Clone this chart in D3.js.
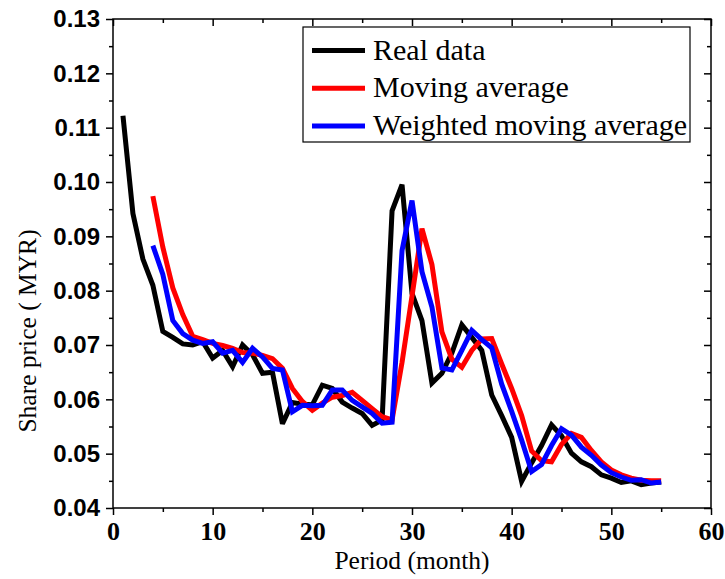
<!DOCTYPE html>
<html>
<head>
<meta charset="utf-8">
<script src="https://cdn.jsdelivr.net/npm/d3@7/dist/d3.min.js"></script>
<style>
  html, body { margin: 0; padding: 0; background: #fff; }
  svg { display: block; }
</style>
</head>
<body>
<script>
// ---- data ----
const realPeriods = d3.range(1, 56);
const realData = [
  0.1122, 0.0942, 0.0858, 0.0810, 0.0725, 0.0714, 0.0702, 0.0700, 0.0706, 0.0676,
  0.0690, 0.0660, 0.0700, 0.0682, 0.0648, 0.0650, 0.0555, 0.0594, 0.0591, 0.0590,
  0.0626, 0.0620, 0.0595, 0.0584, 0.0574, 0.0552, 0.0562, 0.0947, 0.0995, 0.0795,
  0.0745, 0.0630, 0.0648, 0.0685, 0.0737, 0.0714, 0.0690, 0.0608, 0.0570, 0.0530,
  0.0449, 0.0483, 0.0515, 0.0553, 0.0533, 0.0501, 0.0485, 0.0476, 0.0461, 0.0455,
  0.0447, 0.0450, 0.0443, 0.0446, 0.0448
];
const avgPeriods = d3.range(4, 56);
const movingAverage = [
  0.0974, 0.0880, 0.0805, 0.0756, 0.0716, 0.0710, 0.0703, 0.0699, 0.0694, 0.0686,
  0.0685, 0.0681, 0.0675, 0.0657, 0.0620, 0.0596, 0.0580, 0.0593, 0.0604, 0.0607,
  0.0613, 0.0598, 0.0583, 0.0568, 0.0562, 0.0668, 0.0790, 0.0914, 0.0848, 0.0724,
  0.0674, 0.0659, 0.0690, 0.0711, 0.0712, 0.0665, 0.0620, 0.0570, 0.0505, 0.0487,
  0.0485, 0.0517, 0.0537, 0.0530, 0.0506, 0.0485, 0.0470, 0.0461, 0.0455, 0.0451,
  0.0450, 0.0450
];
const weightedMovingAverage = [
  0.0883, 0.0830, 0.0745, 0.0721, 0.0709, 0.0703, 0.0706, 0.0685, 0.0690, 0.0668,
  0.0694, 0.0678, 0.0657, 0.0654, 0.0577, 0.0589, 0.0588, 0.0589, 0.0617, 0.0617,
  0.0598, 0.0586, 0.0574, 0.0556, 0.0558, 0.0874, 0.0966, 0.0835, 0.0770, 0.0658,
  0.0654, 0.0690, 0.0727, 0.0710, 0.0695, 0.0628, 0.0578, 0.0525, 0.0467, 0.0480,
  0.0515, 0.0546, 0.0534, 0.0512, 0.0497, 0.0479, 0.0465, 0.0457, 0.0451, 0.0452,
  0.0446, 0.0448
];
const seriesNames = ["Real data", "Moving average", "Weighted moving average"];
const seriesColors = ["#000000", "#ff0000", "#0000ff"];
const xTicks = [0, 10, 20, 30, 40, 50, 60];
const xMinorTicks = [5, 15, 25, 35, 45, 55];
const yTicks = [0.04, 0.05, 0.06, 0.07, 0.08, 0.09, 0.10, 0.11, 0.12, 0.13];
const yMinorTicks = [0.045, 0.055, 0.065, 0.075, 0.085, 0.095, 0.105, 0.115, 0.125];

// ---- layout ----
const W = 725, H = 579;
const m = { left: 113, right: 14, top: 19, bottom: 71 };
const iw = W - m.left - m.right, ih = H - m.top - m.bottom;

const svg = d3.select("body").append("svg").attr("width", W).attr("height", H);
const g = svg.append("g").attr("transform", `translate(${m.left},${m.top})`);

const x = d3.scaleLinear().domain([0, 60]).range([0, iw]);
const y = d3.scaleLinear().domain([0.04, 0.13]).range([ih, 0]);

const serif = "'Liberation Serif', 'Times New Roman', serif";
const sans = "'Liberation Sans', Arial, sans-serif";

// ---- lines ----
const line = d3.line().x(d => x(d[0])).y(d => y(d[1]));
const series = [
  d3.zip(realPeriods, realData),
  d3.zip(avgPeriods, movingAverage),
  d3.zip(avgPeriods, weightedMovingAverage)
];
series.forEach((s, i) => {
  g.append("path").datum(s)
    .attr("fill", "none")
    .attr("stroke", seriesColors[i])
    .attr("stroke-width", 5)
    .attr("stroke-linejoin", "miter")
    .attr("stroke-miterlimit", 3)
    .attr("d", line);
});

// ---- axes ----
function style(sel) {
  sel.select(".domain").remove();
  sel.selectAll(".tick line").attr("stroke", "#000").attr("stroke-width", 1.5);
}
// bottom
g.append("g").attr("transform", `translate(0,${ih})`)
  .call(d3.axisBottom(x).tickValues(xTicks).tickSize(7).tickPadding(7).tickFormat(d3.format("d")))
  .call(style)
  .selectAll("text").attr("font-family", serif).attr("font-weight", "bold").attr("font-size", 26).attr("fill", "#000");
g.append("g").attr("transform", `translate(0,${ih})`)
  .call(d3.axisBottom(x).tickValues(xMinorTicks).tickSize(4).tickFormat(""))
  .call(style);
// top (inward)
g.append("g")
  .call(d3.axisTop(x).tickValues(xTicks).tickSize(-7).tickFormat(""))
  .call(style);
g.append("g")
  .call(d3.axisTop(x).tickValues(xMinorTicks).tickSize(-4).tickFormat(""))
  .call(style);
// left
g.append("g")
  .call(d3.axisLeft(y).tickValues(yTicks).tickSize(7).tickPadding(6).tickFormat(d3.format(".2f")))
  .call(style)
  .selectAll("text").attr("font-family", sans).attr("font-weight", "bold").attr("font-size", 24).attr("fill", "#000");
g.append("g")
  .call(d3.axisLeft(y).tickValues(yMinorTicks).tickSize(4).tickFormat(""))
  .call(style);
// right (inward)
g.append("g").attr("transform", `translate(${iw},0)`)
  .call(d3.axisRight(y).tickValues(yTicks).tickSize(-7).tickFormat(""))
  .call(style);
g.append("g").attr("transform", `translate(${iw},0)`)
  .call(d3.axisRight(y).tickValues(yMinorTicks).tickSize(-4).tickFormat(""))
  .call(style);

// frame
g.append("rect").attr("x", 0).attr("y", 0).attr("width", iw).attr("height", ih)
  .attr("fill", "none").attr("stroke", "#000").attr("stroke-width", 1.5);

// ---- axis titles ----
svg.append("text")
  .attr("x", m.left + iw / 2).attr("y", 569)
  .attr("text-anchor", "middle")
  .attr("font-family", serif).attr("font-size", 25.5).attr("fill", "#000")
  .text("Period (month)");
svg.append("text")
  .attr("transform", `translate(36,${331}) rotate(-90)`)
  .attr("text-anchor", "middle")
  .attr("font-family", serif).attr("font-size", 25.5).attr("fill", "#000")
  .text("Share price ( MYR)");

// ---- legend ----
const lg = svg.append("g");
lg.append("rect").attr("x", 303).attr("y", 27).attr("width", 387).attr("height", 115)
  .attr("fill", "#fff").attr("stroke", "#000").attr("stroke-width", 1.2);
const rowY = [50.5, 88.3, 126];
seriesNames.forEach((name, i) => {
  lg.append("line").attr("x1", 312).attr("x2", 365).attr("y1", rowY[i]).attr("y2", rowY[i])
    .attr("stroke", seriesColors[i]).attr("stroke-width", 5);
  lg.append("text").attr("x", 373).attr("y", rowY[i] + 9)
    .attr("font-family", serif).attr("font-size", 30).attr("fill", "#000")
    .text(name);
});
</script>
</body>
</html>
